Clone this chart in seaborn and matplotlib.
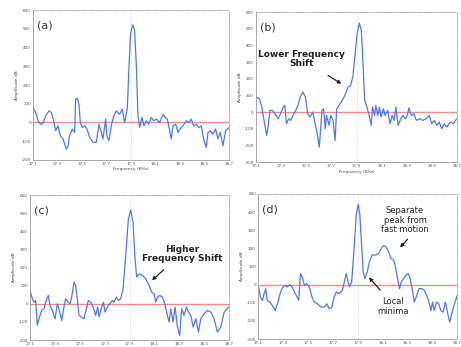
import numpy as np
import pandas as pd
import matplotlib
matplotlib.use("Agg")
import matplotlib.pyplot as plt
import seaborn as sns

sns.set_style("white")
plt.rcParams['font.family'] = ['DejaVu Sans']

# ---------------- data ----------------
freq_a = [17.100, 17.122, 17.141, 17.160, 17.182, 17.203, 17.231, 17.250, 17.269, 17.285,
          17.304, 17.323, 17.345, 17.372, 17.386, 17.399, 17.421, 17.440, 17.448, 17.462,
          17.476, 17.486, 17.503, 17.522, 17.541, 17.563, 17.590, 17.617, 17.639, 17.658,
          17.671, 17.693, 17.704, 17.720, 17.739, 17.759, 17.780, 17.807, 17.829, 17.848,
          17.870, 17.884, 17.897, 17.916, 17.930, 17.944, 17.957, 17.971, 17.990, 18.006,
          18.025, 18.044, 18.066, 18.085, 18.107, 18.134, 18.161, 18.180, 18.197, 18.216,
          18.229, 18.243, 18.265, 18.284, 18.311, 18.333, 18.352, 18.373, 18.393, 18.412,
          18.433, 18.455, 18.474, 18.493, 18.515, 18.529, 18.548, 18.569, 18.591, 18.610,
          18.629, 18.651, 18.673, 18.700]
amp_a = [80, 53, 9, -9, -4, 35, 62, 53, 9, -44,
         -18, -71, -88, -142, -124, -71, -35, -53, 124, 129,
         97, 0, -27, -18, -35, -80, -106, -106, -9, -53,
         -88, 18, -71, -97, -18, 35, 62, 44, 71, 0,
         71, 301, 478, 522, 487, 301, 35, -27, 27, -18,
         9, -9, 27, 9, 18, 0, 44, 27, 18, -44,
         -88, -18, -9, -53, -27, -9, 9, 0, 18, -18,
         -9, -27, -18, -88, -133, -53, -44, -62, -35, -88,
         -53, -124, -44, -27]

freq_b = [17.100, 17.129, 17.147, 17.165, 17.186, 17.199, 17.212, 17.233, 17.251, 17.277,
          17.296, 17.317, 17.330, 17.343, 17.361, 17.377, 17.395, 17.416, 17.434, 17.452,
          17.473, 17.494, 17.512, 17.531, 17.552, 17.565, 17.583, 17.604, 17.625, 17.638,
          17.651, 17.661, 17.682, 17.695, 17.713, 17.729, 17.742, 17.760, 17.786, 17.813,
          17.833, 17.852, 17.870, 17.886, 17.904, 17.922, 17.938, 17.951, 17.964, 17.982,
          18.000, 18.016, 18.027, 18.042, 18.053, 18.068, 18.081, 18.094, 18.113, 18.126,
          18.147, 18.165, 18.183, 18.199, 18.212, 18.230, 18.251, 18.269, 18.288, 18.303,
          18.316, 18.335, 18.355, 18.374, 18.400, 18.426, 18.452, 18.478, 18.496, 18.517,
          18.538, 18.556, 18.575, 18.596, 18.616, 18.643, 18.669, 18.695]
amp_b = [90, 80, 30, -50, -140, -80, 10, 10, -10, -40,
         -10, 30, 40, -70, -40, -50, -20, 10, 40, 90,
         120, 90, -10, -30, 0, -50, -110, -210, 10, 20,
         -100, -20, -80, -20, -50, -170, 20, 40, 70, 110,
         150, 160, 210, 330, 470, 534, 490, 290, 70, 30,
         -20, -80, 30, -20, 40, -20, 30, -30, 20, -20,
         10, -70, -20, -50, 30, -80, -40, -20, -40, -20,
         26, -20, -10, -50, -40, -50, -40, -20, -70, -50,
         -80, -60, -100, -70, -90, -60, -70, -40]

freq_c = [17.100, 17.119, 17.132, 17.146, 17.159, 17.172, 17.194, 17.213, 17.226, 17.247,
          17.261, 17.280, 17.301, 17.320, 17.333, 17.355, 17.373, 17.387, 17.406, 17.422,
          17.435, 17.454, 17.467, 17.481, 17.494, 17.513, 17.534, 17.553, 17.569, 17.588,
          17.607, 17.628, 17.644, 17.655, 17.676, 17.690, 17.703, 17.722, 17.741, 17.762,
          17.775, 17.794, 17.810, 17.829, 17.848, 17.869, 17.891, 17.909, 17.928, 17.944,
          17.958, 17.976, 18.003, 18.030, 18.057, 18.078, 18.097, 18.110, 18.124, 18.143,
          18.164, 18.183, 18.204, 18.218, 18.231, 18.250, 18.266, 18.285, 18.303, 18.319,
          18.338, 18.357, 18.373, 18.392, 18.411, 18.432, 18.454, 18.472, 18.499, 18.526,
          18.553, 18.579, 18.606, 18.633, 18.660, 18.695]
amp_c = [73, 28, 9, 18, -119, -83, -37, -28, 9, 46,
         -9, -37, -83, 0, -28, -92, -18, 28, 9, 0,
         37, 119, 101, 18, -64, -73, -83, -28, 18, 9,
         -18, -64, -18, -73, -18, 9, -46, -18, 0, 18,
         9, 37, 18, 28, 83, 266, 468, 517, 450, 248,
         147, 165, 156, 138, 101, 64, 55, 9, 37, 46,
         37, 0, -64, -101, -28, -101, -18, -128, -174, -28,
         -64, -18, -46, -64, -128, -83, -156, -83, -55, -37,
         -46, -83, -156, -128, -46, -18]

freq_d = [17.100, 17.119, 17.134, 17.148, 17.161, 17.172, 17.193, 17.214, 17.238, 17.259,
          17.280, 17.299, 17.318, 17.334, 17.352, 17.373, 17.392, 17.413, 17.426, 17.440,
          17.458, 17.471, 17.490, 17.511, 17.533, 17.551, 17.578, 17.604, 17.631, 17.652,
          17.670, 17.692, 17.710, 17.729, 17.750, 17.777, 17.798, 17.808, 17.822, 17.835,
          17.851, 17.869, 17.888, 17.904, 17.917, 17.931, 17.944, 17.957, 17.976, 17.994,
          18.015, 18.042, 18.068, 18.090, 18.108, 18.127, 18.148, 18.167, 18.188, 18.201,
          18.220, 18.236, 18.249, 18.268, 18.286, 18.307, 18.321, 18.339, 18.355, 18.374,
          18.392, 18.413, 18.435, 18.453, 18.472, 18.488, 18.501, 18.514, 18.533, 18.551,
          18.567, 18.586, 18.604, 18.626, 18.639, 18.652, 18.673, 18.700]
amp_d = [-4, -69, -87, -50, -22, -87, -96, -115, -143, -96,
         -41, -13, -4, -13, 0, -13, -41, -69, -87, 61,
         33, -4, 6, -13, -69, -96, -106, -124, -124, -106,
         -133, -124, -69, -41, -50, -31, 33, 61, 15, -13,
         15, 181, 385, 444, 385, 219, 70, 33, 70, 126,
         163, 163, 172, 200, 215, 209, 181, 144, 135, 107,
         33, -22, 15, 33, 52, 61, 33, -31, -96, -59,
         -22, -22, -31, -59, -96, -143, -96, -143, -96, -106,
         -143, -152, -96, -170, -207, -170, -115, -59]

x_ticks = [17.1, 17.3, 17.5, 17.7, 17.9, 18.1, 18.3, 18.5, 18.7]
x_tick_labels = ["17.1", "17.3", "17.5", "17.7", "17.9", "18.1", "18.3", "18.5", "18.7"]
panel_labels = ["(a)", "(b)", "(c)", "(d)"]
ylims = [(-200, 600), (-300, 600), (-200, 600), (-300, 500)]
ylabel = "Amplitude dB"
xlabel = "Frequency (KHz)"
peak_freq = 17.9

# ---------------- figure ----------------
fig = plt.figure(figsize=(4.61, 3.47), dpi=100)
rects = [
    [0.0716, 0.539, 0.425, 0.432],
    [0.555, 0.533, 0.437, 0.432],
    [0.065, 0.020, 0.432, 0.418],
    [0.560, 0.023, 0.432, 0.418],
]
series = [(freq_a, amp_a), (freq_b, amp_b), (freq_c, amp_c), (freq_d, amp_d)]
line_blue = "#5078ea"
zero_red = "#f08c84"

axes = []
for i, (rect, (fx, ay)) in enumerate(zip(rects, series)):
    ax = fig.add_axes(rect)
    axes.append(ax)
    df = pd.DataFrame({"freq": fx, "amp": ay})
    ax.axhline(0, color=zero_red, lw=1.0, zorder=1)
    ax.axvline(peak_freq, color="#c8c8c8", lw=0.5, ls=":", zorder=0)
    sns.lineplot(data=df, x="freq", y="amp", ax=ax, color=line_blue, lw=0.9,
                 sort=False, estimator=None, zorder=2)
    ax.set_xlim(17.1, 18.7)
    lo, hi = ylims[i]
    ax.set_ylim(lo, hi)
    ax.set_yticks(list(range(lo, hi + 1, 100)))
    ax.set_yticklabels([str(v) for v in range(lo, hi + 1, 100)])
    ax.set_xticks(x_ticks)
    ax.set_xticklabels(x_tick_labels)
    ax.tick_params(axis="both", labelsize=3, length=1.5, width=0.4, direction="in",
                   pad=1.5, colors="#555555")
    for s in ax.spines.values():
        s.set_color("#9a9a9a")
        s.set_linewidth(0.6)
    ax.spines["top"].set_linestyle(":")
    ax.spines["right"].set_linestyle(":")
    if i < 2:
        ax.set_xlabel(xlabel, fontsize=3.2, labelpad=1, color="#444444")
    else:
        ax.set_xlabel("")
    ax.set_ylabel(ylabel, fontsize=3.2, labelpad=2, color="#444444")
    ax.text(0.02, 0.93, panel_labels[i], transform=ax.transAxes, fontsize=8,
            color="#333333", va="top", ha="left")

# annotations
axes[1].annotate("Lower Frequency\nShift", xy=(17.78, 170), xytext=(17.46, 320),
                 fontsize=6.5, fontweight="bold", ha="center", va="center",
                 color="#222222", linespacing=1.0,
                 arrowprops=dict(arrowstyle="-|>", color="#222222", lw=0.9,
                                 mutation_scale=5, shrinkA=6, shrinkB=0))
axes[2].annotate("Higher\nFrequency Shift", xy=(18.08, 130), xytext=(18.32, 275),
                 fontsize=6.5, fontweight="bold", ha="center", va="center",
                 color="#222222", linespacing=1.0,
                 arrowprops=dict(arrowstyle="-|>", color="#222222", lw=0.9,
                                 mutation_scale=5, shrinkA=4, shrinkB=0))
axes[3].text(18.28, 355, "Separate\npeak from\nfast motion", fontsize=6,
             ha="center", va="center", color="#222222", linespacing=1.05)
axes[3].annotate("", xy=(18.24, 205), xytext=(18.30, 250),
                 arrowprops=dict(arrowstyle="-|>", color="#222222", lw=0.9,
                                 mutation_scale=5, shrinkA=0, shrinkB=0))
axes[3].text(18.18, -120, "Local\nminima", fontsize=6, ha="center", va="center",
             color="#222222", linespacing=1.05)
axes[3].annotate("", xy=(17.99, 40), xytext=(18.08, -30),
                 arrowprops=dict(arrowstyle="-|>", color="#222222", lw=0.9,
                                 mutation_scale=5, shrinkA=0, shrinkB=0))

fig.savefig("out.png", dpi=100)
